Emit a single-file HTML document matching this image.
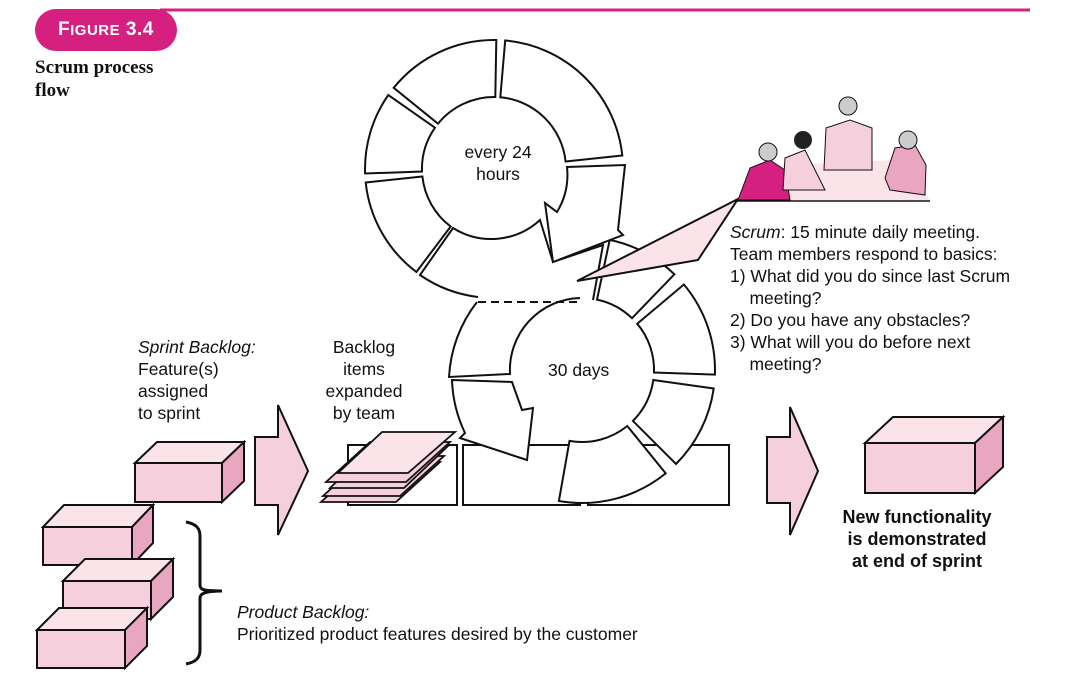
<!DOCTYPE html>
<html><head><meta charset="utf-8"><style>
body{margin:0;background:#fff;width:1069px;height:676px;overflow:hidden;position:relative;font-family:"Liberation Sans",sans-serif;color:#111}
.t{position:absolute;font-size:17.5px;line-height:22px;white-space:nowrap}
</style></head><body>
<svg width="1069" height="676" style="position:absolute;left:0;top:0" id="s">
<line x1="160" y1="10" x2="1030" y2="10" stroke="#d6207f" stroke-width="3"/>
<rect x="35" y="9" width="142" height="42" rx="21" fill="#d6207f"/>
<g stroke="#111" stroke-width="2" fill="#fff" id="rings">
<rect x="348" y="445" width="109" height="60"/>
<rect x="463" y="445" width="117" height="60"/>
<rect x="588" y="445" width="141" height="60"/>
</g>
<g id="extra" stroke="#111" stroke-width="2">
<path d="M420,275 A129,129 0 0 0 478,297 L593,300 L603,245 L553,262 L540,220 A72,72 0 0 1 453,228 Z" fill="#fff" stroke="none"/>
<path d="M593,300 L603,245 L553,262 L540,220 A72,72 0 0 1 453,228 L420,275 A129,129 0 0 0 478,297" fill="none"/>
<path d="M449,377 A133,133 0 0 1 477,302 L580,302 L582,298 A72,72 0 0 0 510,374 Z" fill="#fff" stroke="none"/>
<path d="M477,302 A133,133 0 0 0 449,377 L510,374 A72,72 0 0 1 580,298" fill="none"/>
</g>
<line x1="478" y1="302" x2="580" y2="302" stroke="#111" stroke-width="2" stroke-dasharray="8,5"/>
<polygon points="577,281 738,199 698,260" fill="#fbe3ea" stroke="#111" stroke-width="2"/>
<!-- people -->
<polygon points="740,200 930,200 895,160 790,165" fill="#fbe3ea"/>
<line x1="737" y1="201" x2="930" y2="201" stroke="#111" stroke-width="1.5"/>
<path d="M738,200 L750,168 L770,160 L785,170 L790,200 Z" fill="#d6207f" stroke="#111"/>
<circle cx="768" cy="152" r="9" fill="#ccc" stroke="#111"/>
<path d="M783,190 L785,158 L805,150 L815,170 L825,190 Z" fill="#f6cfdc" stroke="#111"/>
<circle cx="803" cy="140" r="9" fill="#222"/>
<path d="M824,170 L826,128 L850,120 L872,128 L872,170 Z" fill="#f6cfdc" stroke="#111"/>
<circle cx="848" cy="106" r="9" fill="#ccc" stroke="#111"/>
<path d="M885,178 L895,148 L915,145 L926,165 L925,195 L890,190 Z" fill="#eaa5c0" stroke="#111"/>
<circle cx="908" cy="140" r="9" fill="#ccc" stroke="#111"/>
<!-- arrows -->
<polygon points="255,437 278,437 278,405 308,471 278,535 278,505 255,505" fill="#f5cfdc" stroke="#111" stroke-width="2"/>
<polygon points="767,437 790,437 790,407 818,471 790,535 790,503 767,503" fill="#f5cfdc" stroke="#111" stroke-width="2"/>
<!-- sheets -->
<g stroke="#111" stroke-width="1.8" fill="#f5cfdc">
<polygon points="321,502 365,462 440,462 396,502"/>
<polygon points="323,496 367,456 444,456 400,496"/>
<polygon points="330,488 374,446 448,446 404,488"/>
<polygon points="326,482 370,442 450,442 406,482"/>
<polygon points="338,473 382,432 455,432 408,473" fill="#fbe3ea"/>
</g>
<!-- brace -->
<path d="M186,522 C196,524 200,528 200,536 L200,585 C200,590 204,591 222,591 C204,591 200,594 200,598 L200,650 C200,658 196,662 186,664" fill="none" stroke="#111" stroke-width="3"/>
<g id="boxes" stroke="#111" stroke-width="2"></g>
</svg>
<div class="t" style="left:58px;top:19px;color:#fff;font-weight:bold;font-size:19px;letter-spacing:0.5px">F<span style="font-size:15px">IGURE</span> 3.4</div>
<div class="t" style="left:35px;top:56px;font-family:'Liberation Serif',serif;font-weight:bold;font-size:19px;line-height:23px">Scrum process<br>flow</div>
<div class="t" style="left:458px;top:141px;text-align:center;width:80px">every 24<br>hours</div>
<div class="t" style="left:548px;top:359px">30 days</div>
<div class="t" style="left:138px;top:336px"><i>Sprint Backlog:</i><br>Feature(s)<br>assigned<br>to sprint</div>
<div class="t" style="left:318px;top:336px;text-align:center;width:92px">Backlog<br>items<br>expanded<br>by team</div>
<div class="t" style="left:730px;top:221px"><i>Scrum</i>: 15 minute daily meeting.<br>Team members respond to basics:<br>1) What did you do since last Scrum<br>&nbsp;&nbsp;&nbsp;&nbsp;meeting?<br>2) Do you have any obstacles?<br>3) What will you do before next<br>&nbsp;&nbsp;&nbsp;&nbsp;meeting?</div>
<div class="t" style="left:817px;top:506px;width:200px;text-align:center;font-weight:bold;font-size:18px;line-height:22px">New functionality<br>is demonstrated<br>at end of sprint</div>
<div class="t" style="left:237px;top:601px"><i>Product Backlog:</i><br>Prioritized product features desired by the customer</div>
<script>
var NS="http://www.w3.org/2000/svg";
function P(x,y){return x.toFixed(1)+","+y.toFixed(1)}
function sec(cx,cy,r1,r2,a1,a2){var r=Math.PI/180,b=(a2-a1)>180?1:0;
return "M"+P(cx+r2*Math.cos(a1*r),cy+r2*Math.sin(a1*r))+"A"+r2+","+r2+" 0 "+b+" 1 "+P(cx+r2*Math.cos(a2*r),cy+r2*Math.sin(a2*r))+"L"+P(cx+r1*Math.cos(a2*r),cy+r1*Math.sin(a2*r))+"A"+r1+","+r1+" 0 "+b+" 0 "+P(cx+r1*Math.cos(a1*r),cy+r1*Math.sin(a1*r))+"Z";}
var g=document.getElementById("rings");
function add(d){var p=document.createElementNS(NS,"path");p.setAttribute("d",d);g.appendChild(p);}
[[-85,-6],[-141,-89],[-182,-145],[127,174]].forEach(function(a){add(sec(494,169,72,129,a[0],a[1]));});
[[-78,-46],[-40,2],[8,45],[51,100]].forEach(function(a){add(sec(582,370,72,133,a[0],a[1]));});
add("M452,380 L512,382 L522,410 L533,408 L527,460 L460,438 L465,433 A133,133 0 0 1 452,380Z");
var ex=document.getElementById("extra");
var arr=document.createElementNS(NS,"path");arr.setAttribute("d","M567,167 L625,165 L618,230 L623,235 L553,262 L545,203 L557,212 A72,72 0 0 0 567,167Z");arr.setAttribute("fill","#fff");ex.appendChild(arr);
var bg=document.getElementById("boxes");
function box(x,y,w,h,dx,dy){var s="";
s+='<polygon points="'+[x,y,x+dx,y-dy,x+w+dx,y-dy,x+w,y].join(",")+'" fill="#fbe3ea"/>';
s+='<polygon points="'+[x+w,y,x+w+dx,y-dy,x+w+dx,y+h-dy,x+w,y+h].join(",")+'" fill="#e9a6c1"/>';
s+='<rect x="'+x+'" y="'+y+'" width="'+w+'" height="'+h+'" fill="#f5cfdc"/>';return s;}
bg.innerHTML=box(135,463,87,39,22,21)+box(43,527,89,38,21,22)+box(63,581,88,38,22,22)+box(37,630,88,38,22,22)+box(865,443,110,50,28,26);
</script>
</body></html>
